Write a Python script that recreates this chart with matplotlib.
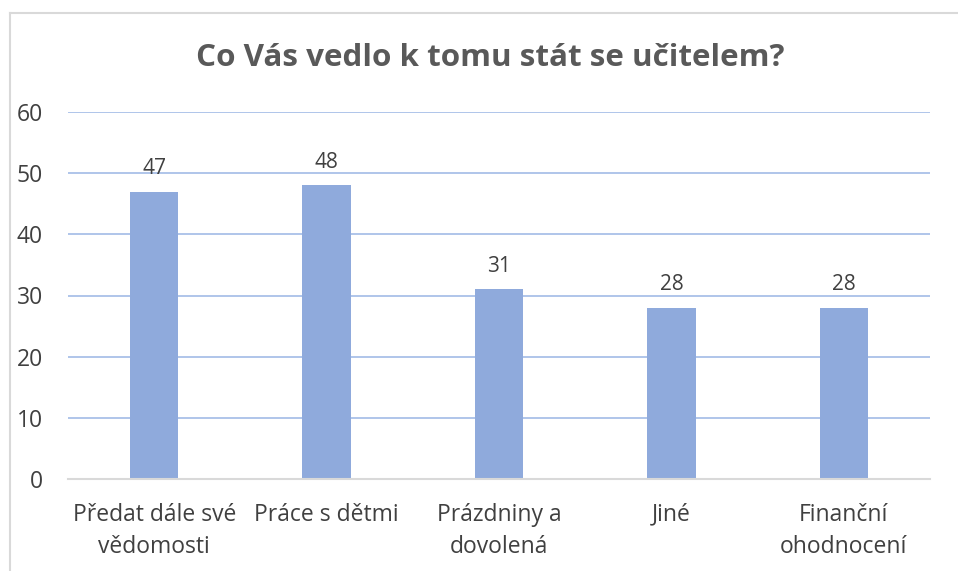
import matplotlib
matplotlib.use("Agg")
import matplotlib.pyplot as plt
from matplotlib.lines import Line2D

categories = ["Předat dále své\nvědomosti", "Práce s dětmi", "Prázdniny a\ndovolená", "Jiné", "Finanční\nohodnocení"]
values = [47, 48, 31, 28, 28]
yticks = [0, 10, 20, 30, 40, 50, 60]
title = "Co Vás vedlo k tomu stát se učitelem?"

plt.rcParams['font.family'] = ['Open Sans', 'DejaVu Sans']

W, H = 958, 571
fig = plt.figure(figsize=(W/100, H/100), dpi=100)
ax = fig.add_axes([68/W, 1-479/H, (930-68)/W, (479-112)/H])

x = list(range(len(values)))
ax.bar(x, values, width=0.28, color="#8FAADC", zorder=3)
ax.set_xlim(-0.5, len(values)-0.5)
ax.set_ylim(0, 60)
ax.set_yticks(yticks)
ax.set_yticklabels([str(t) for t in yticks], fontsize=16.5, color="#404040")
ax.set_xticks(x)
ax.set_xticklabels(categories, fontsize=16.5, color="#404040", linespacing=1.45, va="top")
ax.tick_params(axis='both', length=0)
ax.tick_params(axis='y', pad=18)
ax.tick_params(axis='x', pad=17)
ax.grid(axis='y', color="#A9C0E8", linewidth=1.3, zorder=0)
for s in ["top", "right", "left"]:
    ax.spines[s].set_visible(False)
ax.spines["bottom"].set_color("#D9D9D9")
ax.spines["bottom"].set_linewidth(1.5)
ax.spines["bottom"].set_zorder(4)

for xi, v in zip(x, values):
    ax.annotate(str(v), (xi, v), xytext=(0, 9), textcoords="offset points",
                ha="center", va="bottom", fontsize=15, color="#404040")

fig.text(490/W, 1-58/H, title, ha="center", va="center", fontsize=22.6,
         fontweight="bold", color="#595959")

fig.add_artist(Line2D([9.5/W, 1], [1-13/H, 1-13/H], color="#D9D9D9", lw=1.5, transform=fig.transFigure))
fig.add_artist(Line2D([9.5/W, 9.5/W], [0, 1-13/H], color="#D9D9D9", lw=1.5, transform=fig.transFigure))

fig.savefig("out.png", dpi=100)
